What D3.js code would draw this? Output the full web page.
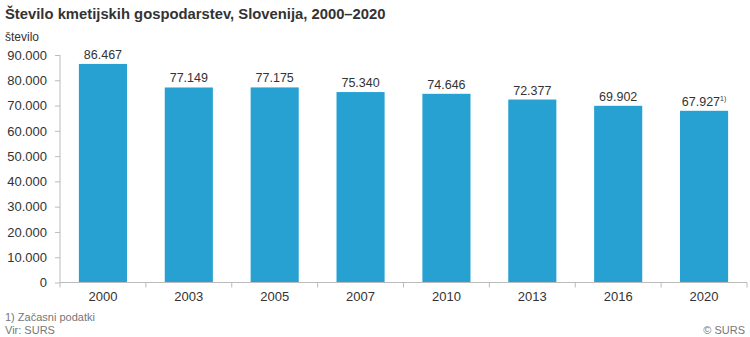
<!DOCTYPE html>
<html>
<head>
<meta charset="utf-8">
<script src="https://cdn.jsdelivr.net/npm/d3@7"></script>
<style>
  html, body { margin: 0; padding: 0; background: #fff; }
  svg { display: block; font-family: "Liberation Sans", Arial, sans-serif; }
</style>
</head>
<body>
<svg id="chart" width="750" height="337"></svg>
<script>
// Number of agricultural holdings by census/survey year
const years = ["2000", "2003", "2005", "2007", "2010", "2013", "2016", "2020"];
const holdings = [86467, 77149, 77175, 75340, 74646, 72377, 69902, 67927];
const footnoteMark = ["", "", "", "", "", "", "", "1)"];
const yTicks = [0, 10000, 20000, 30000, 40000, 50000, 60000, 70000, 80000, 90000];

const svg = d3.select("#chart");
const W = 750;
const x0 = 60, x1 = W - 3;
const yBase = 282.5, yTop = 55;

const fmt = d3.formatLocale({ decimal: ",", thousands: ".", grouping: [3], currency: ["", "€"] }).format(",d");

const x = d3.scaleBand().domain(years).range([x0, x1]).paddingInner(0.44).paddingOuter(0.22);
const y = d3.scaleLinear().domain([0, 90000]).range([yBase, yTop]);

// Title and unit
svg.append("text").attr("x", 5).attr("y", 19)
  .attr("font-size", 14.8).attr("font-weight", "bold").attr("fill", "#333")
  .text("Število kmetijskih gospodarstev, Slovenija, 2000–2020");
svg.append("text").attr("x", 5).attr("y", 40.5)
  .attr("font-size", 12).attr("fill", "#333").text("število");

// Bars
svg.append("g").selectAll("rect").data(years).join("rect")
  .attr("x", d => x(d))
  .attr("width", x.bandwidth())
  .attr("y", (d, i) => y(holdings[i]))
  .attr("height", (d, i) => yBase - y(holdings[i]))
  .attr("fill", "#26a1d2");

// Value labels
const lbl = svg.append("g").selectAll("text").data(years).join("text")
  .attr("x", d => x(d) + x.bandwidth() / 2)
  .attr("y", (d, i) => y(holdings[i]) - 5)
  .attr("text-anchor", "middle")
  .attr("font-size", 12.5).attr("fill", "#333");
lbl.append("tspan").text((d, i) => fmt(holdings[i]));
lbl.append("tspan").attr("font-size", 7).attr("dy", -5)
  .text((d, i) => footnoteMark[i]);

// Y axis
const yAxis = svg.append("g").attr("transform", `translate(${x0},0)`)
  .call(d3.axisLeft(y).tickValues(yTicks).tickSize(5).tickPadding(8).tickFormat(fmt));
yAxis.select(".domain").attr("stroke", "#bbb").attr("d", `M0,${yTop}V${yBase}`);
yAxis.selectAll(".tick line").attr("stroke", "#bbb");
yAxis.selectAll(".tick text").attr("font-size", 13).attr("fill", "#333")
  .attr("font-family", "Liberation Sans, Arial, sans-serif");

// X axis: boundary ticks between categories, labels centred on bars
const xg = svg.append("g").attr("transform", `translate(0,${yBase})`);
xg.append("line").attr("x1", x0).attr("x2", x1).attr("stroke", "#bbb");
const bounds = d3.range(years.length + 1).map(i => x0 + i * x.step());
xg.selectAll("line.b").data(bounds).join("line").attr("class", "b")
  .attr("x1", d => d).attr("x2", d => d).attr("y1", 0).attr("y2", 5).attr("stroke", "#bbb");
xg.selectAll("text").data(years).join("text")
  .attr("x", d => x(d) + x.bandwidth() / 2).attr("y", 18)
  .attr("text-anchor", "middle").attr("font-size", 13).attr("fill", "#333")
  .text(d => d);

// Footnotes
svg.append("text").attr("x", 5).attr("y", 321).attr("font-size", 11).attr("fill", "#777")
  .text("1) Začasni podatki");
svg.append("text").attr("x", 5).attr("y", 334).attr("font-size", 11).attr("fill", "#777")
  .text("Vir: SURS");
svg.append("text").attr("x", 745).attr("y", 334).attr("text-anchor", "end")
  .attr("font-size", 11).attr("fill", "#777").text("© SURS");
</script>
</body>
</html>
